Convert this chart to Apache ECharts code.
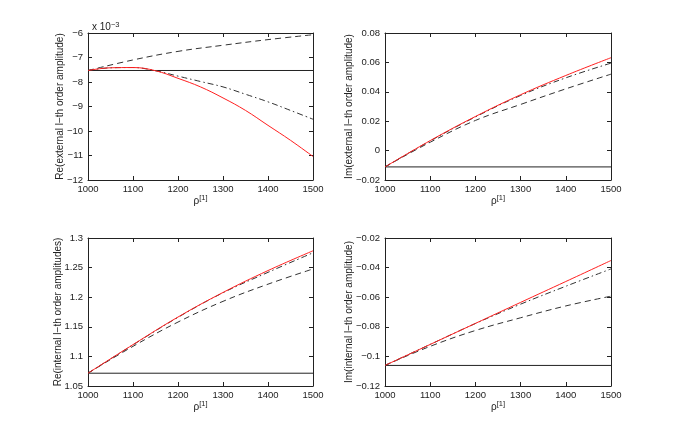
<!DOCTYPE html>
<html>
<head>
<meta charset="utf-8">
<script src="https://cdn.jsdelivr.net/npm/echarts@6/dist/echarts.min.js"></script>
<style>
  html, body { margin: 0; padding: 0; background: #fff; }
  #chart { width: 675px; height: 434px; }
</style>
</head>
<body>
<div id="chart"></div>
<script>
// x values (rho^[1])
const rho = [1000, 1100, 1200, 1300, 1400, 1500];
const rhoFine = [1000, 1050, 1100, 1150, 1200, 1250, 1300, 1350, 1400, 1450, 1500];
const xTicks = [1000, 1100, 1200, 1300, 1400, 1500];

// panel 1: Re(external), in units of 1e-3
const reExtBase = -7.53;
const reExtDashed = [-7.53, -7.1, -6.75, -6.5, -6.27, -6.07];
const reExtDashDot = [-7.53, -7.42, -7.41, -7.54, -7.76, -7.98, -8.2, -8.5, -8.81, -9.16, -9.52];
const reExtRed = [-7.53, -7.42, -7.41, -7.54, -7.85, -8.2, -8.65, -9.16, -9.77, -10.38, -11.04];

// panel 2: Im(external)
const imExtBase = -0.0111;
const imExtDashed = [-0.0111, 0.0057, 0.0205, 0.0314, 0.042, 0.052];
const imExtDashDot = [-0.0111, 0.0066, 0.0229, 0.0375, 0.0495, 0.0595];
const imExtRed = [-0.0111, 0.0068, 0.0232, 0.038, 0.0511, 0.0632];

// panel 3: Re(internal)
const reIntBase = 1.0716;
const reIntDashed = [1.0716, 1.117, 1.158, 1.193, 1.222, 1.2477];
const reIntDashDot = [1.0716, 1.1195, 1.166, 1.2075, 1.242, 1.275];
const reIntRed = [1.0716, 1.1199, 1.1665, 1.208, 1.245, 1.2784];

// panel 4: Im(internal)
const imIntBase = -0.1061;
const imIntDashed = [-0.1061, -0.0932, -0.0825, -0.0739, -0.0659, -0.0593];
const imIntDashDot = [-0.1061, -0.0919, -0.0778, -0.0647, -0.0526, -0.0409];
const imIntRed = [-0.1061, -0.0919, -0.0777, -0.0635, -0.0494, -0.0352];

// y axis ranges [min, max, interval]
const yRanges = [[-12, -6, 1], [-0.02, 0.08, 0.02], [1.05, 1.3, 0.05], [-0.12, -0.02, 0.02]];
const yNames = [
  'Re(external l\u2212th order amplitude)',
  'Im(external l\u2212th order amplitude)',
  'Re(internal l\u2212th order amplitudes)',
  'Im(internal l\u2212th order amplitude)'
];
const yNameGaps = [23, 31, 25, 31];

const FONT = 'Liberation Sans';
const INK = '#222';

function pairs(xArr, yArr) {
  return xArr.map((x, i) => [x, yArr[i]]);
}

function fmt(v) {
  return String(+v.toFixed(4)).replace('-', '\u2212');
}

const grids = [
  { left: 88, top: 33, width: 225, height: 147 },
  { left: 385, top: 33, width: 226, height: 147 },
  { left: 88, top: 238, width: 225, height: 148 },
  { left: 385, top: 238, width: 226, height: 148 }
];

const panels = [
  { base: reExtBase, dashed: pairs(rho, reExtDashed), dashDot: pairs(rhoFine, reExtDashDot), red: pairs(rhoFine, reExtRed) },
  { base: imExtBase, dashed: pairs(rho, imExtDashed), dashDot: pairs(rho, imExtDashDot), red: pairs(rho, imExtRed) },
  { base: reIntBase, dashed: pairs(rho, reIntDashed), dashDot: pairs(rho, reIntDashDot), red: pairs(rho, reIntRed) },
  { base: imIntBase, dashed: pairs(rho, imIntDashed), dashDot: pairs(rho, imIntDashDot), red: pairs(rho, imIntRed) }
];

const xAxis = [];
const yAxis = [];
const series = [];

grids.forEach((g, i) => {
  const [ymin, ymax, yint] = yRanges[i];
  const common = {
    gridIndex: i,
    axisLine: { show: true, onZero: false, lineStyle: { color: INK, width: 1 } },
    axisTick: { show: true, inside: true, length: 4, lineStyle: { color: INK } },
    splitLine: { show: false }
  };
  xAxis.push(Object.assign({}, common, {
    type: 'value', position: 'bottom', min: xTicks[0], max: xTicks[xTicks.length - 1], interval: 100,
    axisLabel: { color: INK, fontFamily: FONT, fontSize: 9.5, margin: 4, formatter: v => String(v) },
    name: '{r|\u03c1}{s|[1]}', nameLocation: 'middle', nameGap: 14, nameMoveOverlap: false,
    nameTextStyle: {
      rich: {
        r: { fontFamily: FONT, fontSize: 10, color: INK },
        s: { fontFamily: FONT, fontSize: 7.5, color: INK, verticalAlign: 'top', padding: [0, 0, 6, 0] }
      }
    }
  }));
  xAxis.push(Object.assign({}, common, {
    type: 'value', position: 'top', min: xTicks[0], max: xTicks[xTicks.length - 1], interval: 100,
    axisLabel: { show: false }
  }));
  yAxis.push(Object.assign({}, common, {
    type: 'value', position: 'left', min: ymin, max: ymax, interval: yint,
    axisLabel: { color: INK, fontFamily: FONT, fontSize: 9.5, margin: 5, formatter: fmt },
    name: yNames[i], nameLocation: 'middle', nameGap: yNameGaps[i], nameRotate: 90, nameMoveOverlap: false,
    nameTextStyle: { fontFamily: FONT, fontSize: 10, color: INK }
  }));
  yAxis.push(Object.assign({}, common, {
    type: 'value', position: 'right', min: ymin, max: ymax, interval: yint,
    axisLabel: { show: false }
  }));

  const p = panels[i];
  const xi = i * 2, yi = i * 2;
  const base = { type: 'line', xAxisIndex: xi, yAxisIndex: yi, symbol: 'none', silent: true, animation: false };
  series.push(Object.assign({}, base, {
    data: [[xTicks[0], p.base], [xTicks[xTicks.length - 1], p.base]],
    lineStyle: { color: INK, width: 1 }
  }));
  series.push(Object.assign({}, base, {
    data: p.dashed, smooth: 0.4,
    lineStyle: { color: '#333', width: 1, type: [6, 4] }
  }));
  series.push(Object.assign({}, base, {
    data: p.dashDot, smooth: 0.4,
    lineStyle: { color: '#333', width: 1, type: [6, 3, 1.5, 3] }
  }));
  series.push(Object.assign({}, base, {
    data: p.red, smooth: 0.4,
    lineStyle: { color: '#ff2020', width: 1 }
  }));
});

const chart = echarts.init(document.getElementById('chart'), null, { renderer: 'canvas' });
chart.setOption({
  backgroundColor: '#fff',
  animation: false,
  title: {
    text: '{a|x 10}{b|\u22123}',
    left: 87, top: 16,
    textStyle: {
      fontWeight: 'normal',
      rich: {
        a: { fontFamily: FONT, fontSize: 10, color: INK, fontWeight: 'normal' },
        b: { fontFamily: FONT, fontSize: 7.5, color: INK, fontWeight: 'normal', verticalAlign: 'top', padding: [0, 0, 5, 0] }
      }
    }
  },
  grid: grids,
  xAxis: xAxis,
  yAxis: yAxis,
  series: series
});
</script>
</body>
</html>
